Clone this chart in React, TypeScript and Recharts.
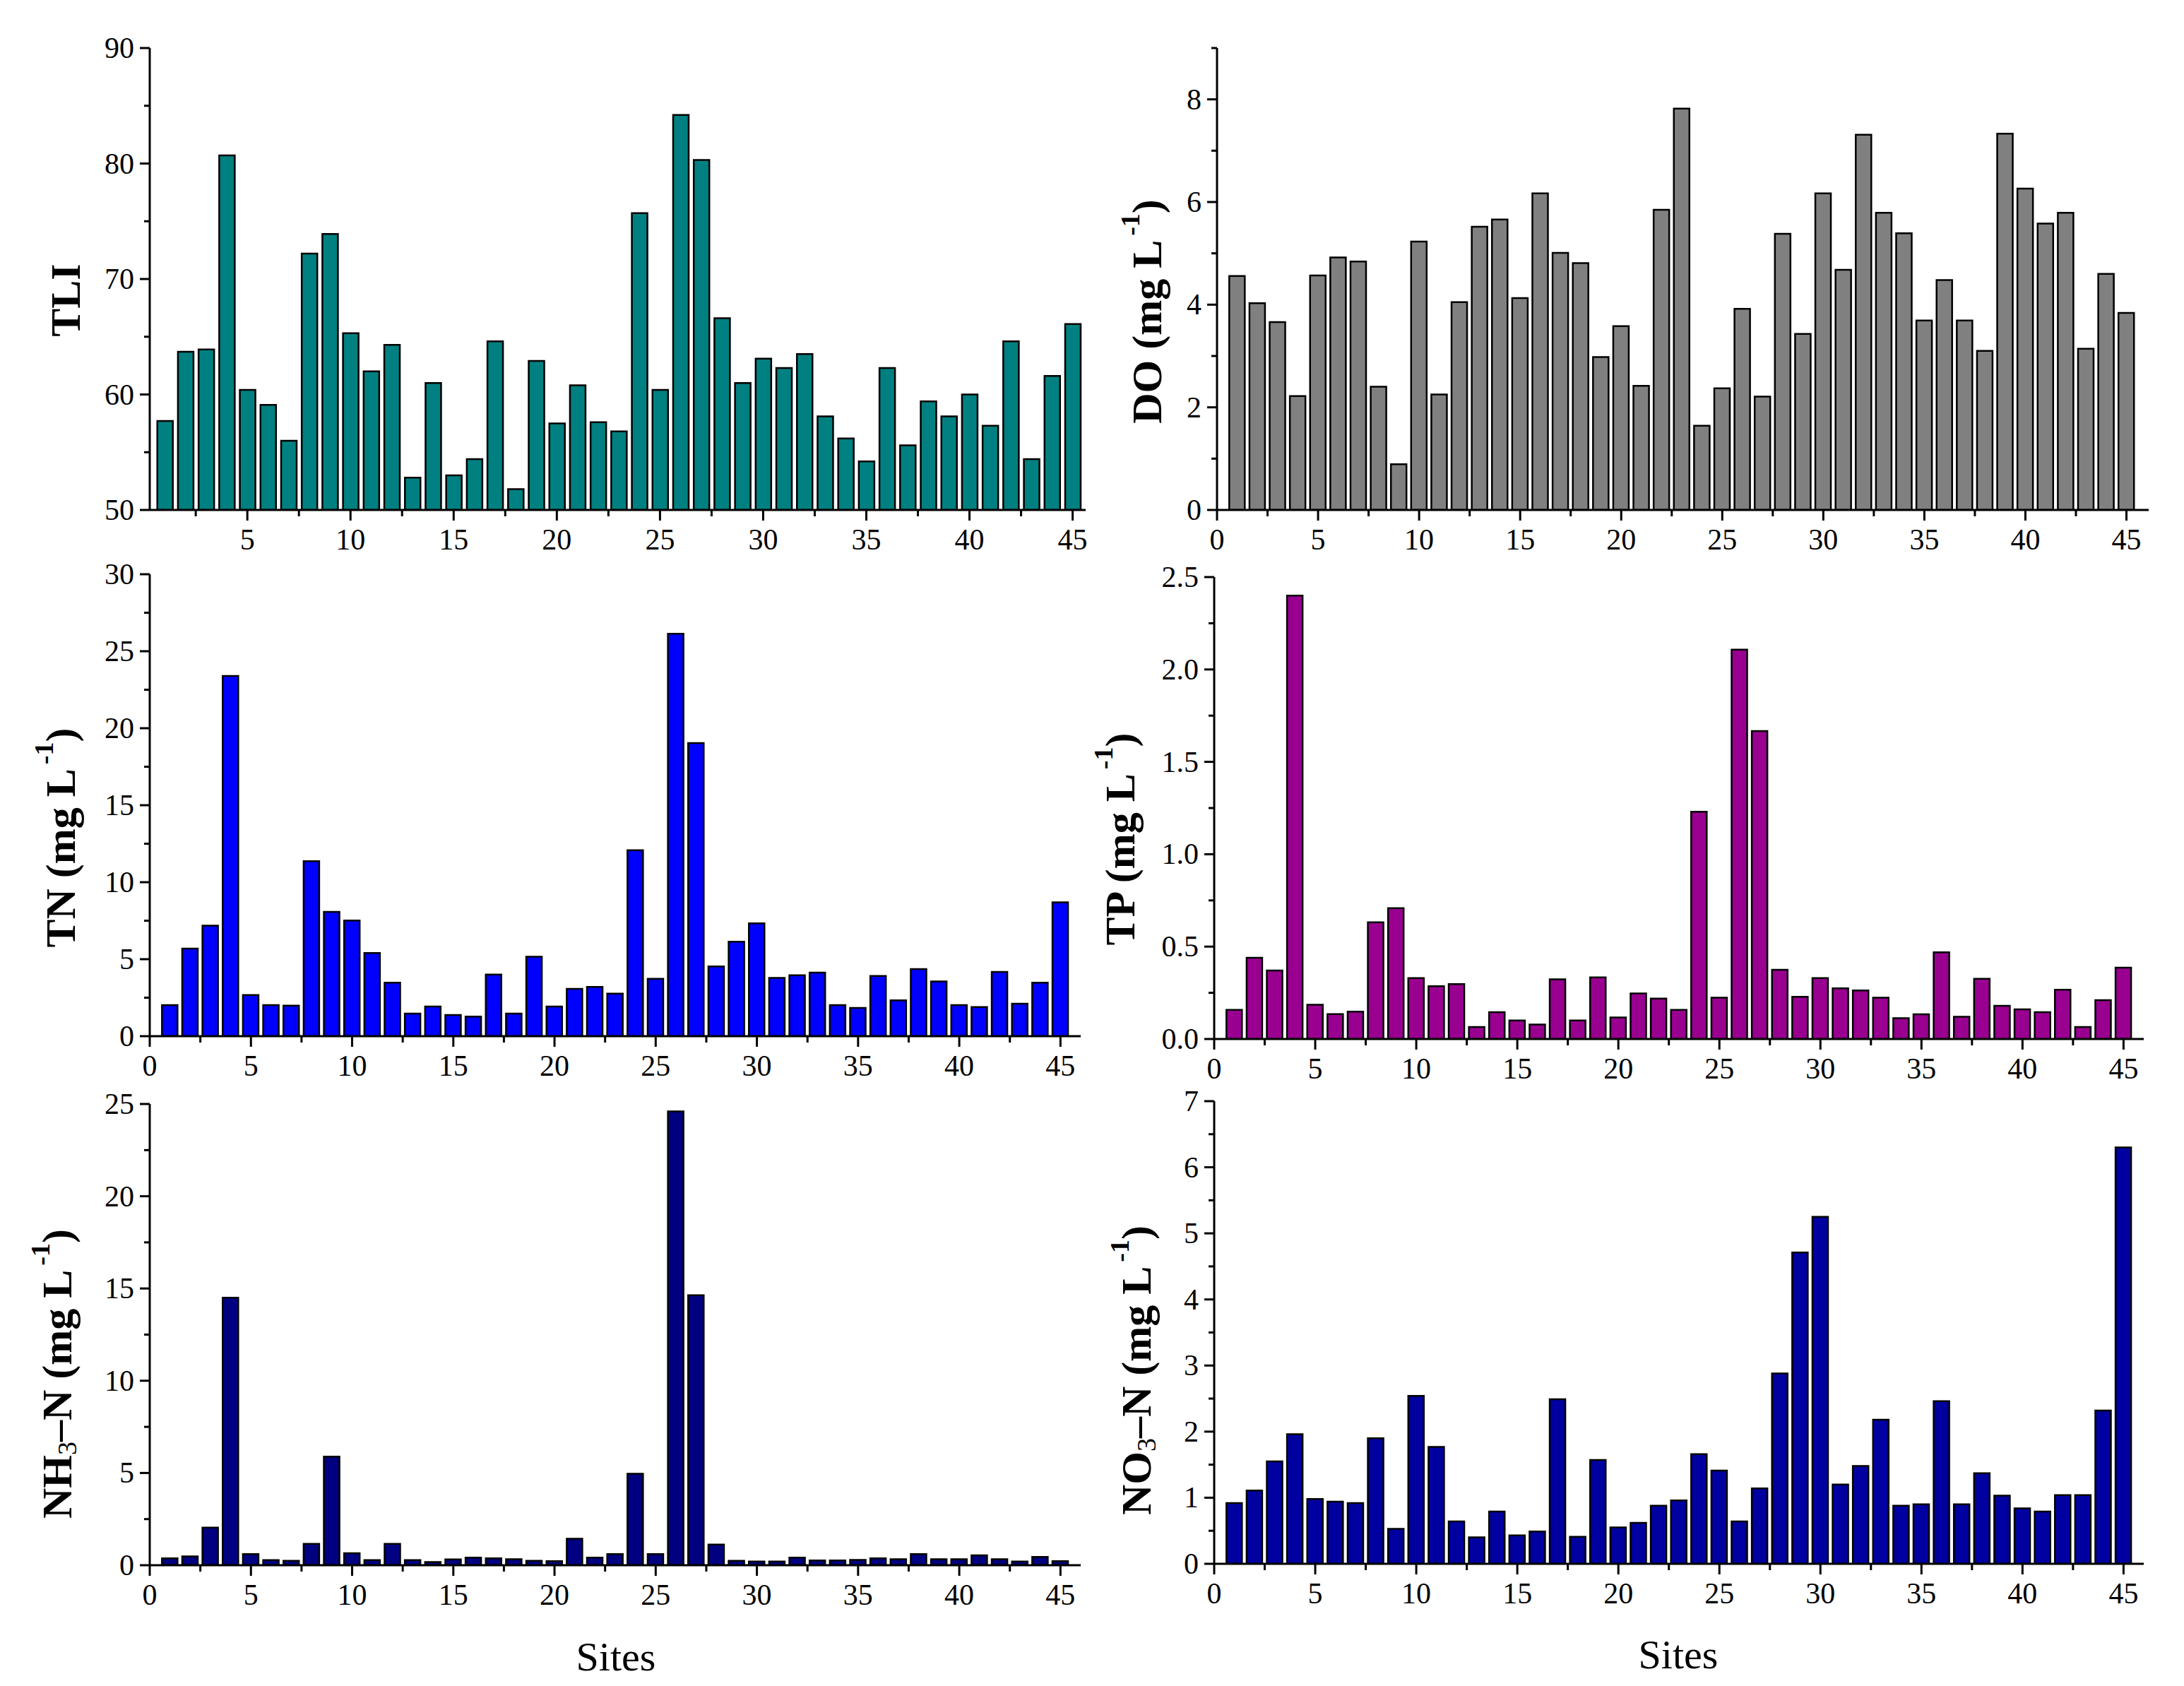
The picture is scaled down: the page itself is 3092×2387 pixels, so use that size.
import React from "react";
import { Bar, BarChart, Label, XAxis, YAxis } from "recharts";

const sites = [
  1, 2, 3, 4, 5, 6, 7, 8, 9, 10, 11, 12, 13, 14, 15, 16, 17, 18, 19, 20, 21, 22, 23,
  24, 25, 26, 27, 28, 29, 30, 31, 32, 33, 34, 35, 36, 37, 38, 39, 40, 41, 42, 43, 44, 45,
];

const tli = [
  57.7, 63.7, 63.9, 80.7, 60.4, 59.1, 56.0, 72.2, 73.9, 65.3,
  62.0, 64.3, 52.8, 61.0, 53.0, 54.4, 64.6, 51.8, 62.9, 57.5,
  60.8, 57.6, 56.8, 75.7, 60.4, 84.2, 80.3, 66.6, 61.0, 63.1,
  62.3, 63.5, 58.1, 56.2, 54.2, 62.3, 55.6, 59.4, 58.1, 60.0,
  57.3, 64.6, 54.4, 61.6, 66.1,
];
const dissolvedO = [
  4.56, 4.03, 3.66, 2.22, 4.57, 4.92, 4.84, 2.4, 0.89, 5.23,
  2.25, 4.05, 5.52, 5.66, 4.13, 6.17, 5.01, 4.81, 2.98, 3.58,
  2.42, 5.85, 7.82, 1.64, 2.37, 3.92, 2.21, 5.38, 3.43, 6.17,
  4.68, 7.31, 5.79, 5.39, 3.69, 4.48, 3.69, 3.1, 7.33, 6.26,
  5.58, 5.79, 3.14, 4.6, 3.84,
];
const tn = [
  2.02, 5.69, 7.18, 23.4, 2.67, 2.02, 1.98, 11.36, 8.07, 7.51,
  5.4, 3.47, 1.47, 1.93, 1.38, 1.27, 4.0, 1.47, 5.16, 1.93,
  3.07, 3.2, 2.76, 12.07, 3.73, 26.13, 19.04, 4.53, 6.13, 7.33,
  3.78, 3.96, 4.13, 2.02, 1.84, 3.91, 2.33, 4.36, 3.56, 2.02,
  1.89, 4.18, 2.11, 3.47, 8.69,
];
const tp = [
  0.158, 0.44, 0.371, 2.4, 0.185, 0.135, 0.148, 0.632, 0.708, 0.33,
  0.286, 0.297, 0.065, 0.145, 0.1, 0.078, 0.323, 0.1, 0.334, 0.117,
  0.247, 0.219, 0.158, 1.23, 0.224, 2.107, 1.667, 0.375, 0.228, 0.33,
  0.274, 0.263, 0.224, 0.113, 0.134, 0.469, 0.12, 0.326, 0.18, 0.161,
  0.145, 0.267, 0.065, 0.21, 0.386,
];
const nh3 = [
  0.37, 0.48, 2.04, 14.5, 0.6, 0.28, 0.24, 1.16, 5.89, 0.65,
  0.28, 1.16, 0.28, 0.17, 0.32, 0.41, 0.37, 0.33, 0.24, 0.22,
  1.44, 0.41, 0.6, 4.96, 0.6, 24.6, 14.63, 1.12, 0.24, 0.2,
  0.2, 0.41, 0.26, 0.26, 0.29, 0.37, 0.33, 0.6, 0.33, 0.33,
  0.54, 0.33, 0.2, 0.45, 0.22,
];
const no3 = [
  0.92, 1.11, 1.55, 1.96, 0.98, 0.94, 0.92, 1.9, 0.53, 2.54,
  1.77, 0.64, 0.4, 0.79, 0.43, 0.49, 2.49, 0.41, 1.57, 0.55,
  0.62, 0.88, 0.96, 1.66, 1.41, 0.64, 1.14, 2.88, 4.71, 5.25,
  1.2, 1.48, 2.18, 0.88, 0.9, 2.46, 0.9, 1.37, 1.03, 0.84,
  0.79, 1.04, 1.04, 2.32, 6.3,
];

const siteTicks = [
  0, 2.5, 5, 7.5, 10, 12.5, 15, 17.5, 20, 22.5, 25, 27.5, 30, 32.5, 35, 37.5, 40, 42.5, 45,
];
const tliTicks = [50, 55, 60, 65, 70, 75, 80, 85, 90];
const doTicks = [0, 1, 2, 3, 4, 5, 6, 7, 8, 9];
const tnTicks = [0, 2.5, 5, 7.5, 10, 12.5, 15, 17.5, 20, 22.5, 25, 27.5, 30];
const tpTicks = [0, 0.25, 0.5, 0.75, 1, 1.25, 1.5, 1.75, 2, 2.25, 2.5];
const nh3Ticks = [0, 2.5, 5, 7.5, 10, 12.5, 15, 17.5, 20, 22.5, 25];
const no3Ticks = [0, 0.5, 1, 1.5, 2, 2.5, 3, 3.5, 4, 4.5, 5, 5.5, 6, 6.5, 7];

const data = sites.map((site, i) => ({
  site,
  tli: tli[i],
  do: dissolvedO[i],
  tn: tn[i],
  tp: tp[i],
  nh3: nh3[i],
  no3: no3[i],
}));

const SERIF = "'Liberation Serif', 'Times New Roman', serif";
const Y_W = 205;
const M_TOP = 60;
const M_RIGHT = 30;

const isMajor = (v: number, step: number) => Math.abs(v / step - Math.round(v / step)) < 1e-6;

function makeXTick() {
  return function XTick(props: any) {
    const { x, y, payload } = props;
    const v = payload.value;
    const major = isMajor(v, 5);
    return (
      <g>
        <line x1={x} x2={x} y1={y} y2={y + (major ? 15 : 9)} stroke="#000" strokeWidth={3} />
        {major && (
          <text x={x} y={y + 56} textAnchor="middle" fontSize={42} fontFamily={SERIF} fill="#000">
            {v}
          </text>
        )}
      </g>
    );
  };
}

function makeYTick(step: number, fmt: (v: number) => string) {
  return function YTick(props: any) {
    const { x, y, payload } = props;
    const v = payload.value;
    const major = isMajor(v, step);
    return (
      <g>
        <line x1={x} x2={x - (major ? 14 : 8)} y1={y} y2={y} stroke="#000" strokeWidth={3} />
        {major && (
          <text x={x - 22} y={y + 14} textAnchor="end" fontSize={42} fontFamily={SERIF} fill="#000">
            {fmt(v)}
          </text>
        )}
      </g>
    );
  };
}

const sup = (t: string) => (
  <>
    <tspan fontSize={38} dx={6} dy={-24}>{t}</tspan>
    <tspan fontSize={60} dy={24}>)</tspan>
  </>
);

type Rect = { l: number; r: number; t: number; b: number };

type PanelProps = {
  dataKey: string;
  color: string;
  plot: Rect;
  xDomain: [number, number];
  xTicks: number[];
  yDomain: [number, number];
  yTicks: number[];
  yStep: number;
  yFmt: (v: number) => string;
  title: React.ReactNode;
  titlePos: [number, number];
  sitesPos?: [number, number];
};

function Panel(p: PanelProps) {
  const xH = p.sitesPos ? 200 : 100;
  const left = p.plot.l - Y_W;
  const top = p.plot.t - M_TOP;
  const width = p.plot.r - p.plot.l + Y_W + M_RIGHT;
  const height = p.plot.b - p.plot.t + M_TOP + xH;
  const [tx, ty] = p.titlePos;
  const XTick = makeXTick();
  const YTick = makeYTick(p.yStep, p.yFmt);

  return (
    <div style={{ position: "absolute", left, top, width, height }}>
      <BarChart
        width={width}
        height={height}
        data={data}
        margin={{ top: M_TOP, right: M_RIGHT, left: 0, bottom: 0 }}
      >
        <XAxis
          type="number"
          dataKey="site"
          domain={p.xDomain}
          ticks={p.xTicks}
          interval={0}
          allowDataOverflow
          height={xH}
          tickSize={0}
          tickMargin={0}
          tickLine={false}
          axisLine={{ stroke: "#000", strokeWidth: 3 }}
          tick={<XTick />}
        >
          {p.sitesPos && (
            <Label
              content={() => (
                <text
                  x={p.sitesPos![0] - left}
                  y={p.sitesPos![1] - top}
                  textAnchor="middle"
                  dominantBaseline="central"
                  fontSize={58}
                  fontFamily={SERIF}
                  fill="#000"
                >
                  Sites
                </text>
              )}
            />
          )}
        </XAxis>
        <YAxis
          type="number"
          domain={p.yDomain}
          ticks={p.yTicks}
          interval={0}
          allowDataOverflow
          width={Y_W}
          tickSize={0}
          tickMargin={0}
          tickLine={false}
          axisLine={{ stroke: "#000", strokeWidth: 3 }}
          tick={<YTick />}
        >
          <Label
            content={() => (
              <text
                x={tx - left}
                y={ty - top}
                transform={`rotate(-90 ${tx - left} ${ty - top})`}
                textAnchor="middle"
                dominantBaseline="central"
                fontSize={60}
                fontWeight="bold"
                fontFamily={SERIF}
                fill="#000"
              >
                {p.title}
              </text>
            )}
          />
        </YAxis>
        <Bar
          dataKey={p.dataKey}
          fill={p.color}
          stroke="#000"
          strokeWidth={2.5}
          barSize={22}
          isAnimationActive={false}
        />
      </BarChart>
    </div>
  );
}

const intFmt = (v: number) => String(v);
const oneDp = (v: number) => v.toFixed(1);

export default function App() {
  return (
    <div
      style={{
        position: "absolute",
        left: 0,
        top: 0,
        width: 3092,
        height: 2387,
        background: "#fff",
        overflow: "hidden",
      }}
    >
      <Panel
        dataKey="tli"
        color="#008080"
        plot={{ l: 212, r: 1537, t: 68, b: 722 }}
        xDomain={[0.27, 45.63]}
        xTicks={siteTicks.slice(1)}
        yDomain={[50, 90]}
        yTicks={tliTicks}
        yStep={10}
        yFmt={intFmt}
        title="TLI"
        titlePos={[93, 425]}
      />
      <Panel
        dataKey="do"
        color="#808080"
        plot={{ l: 1723, r: 3042, t: 68, b: 722 }}
        xDomain={[0, 46.1]}
        xTicks={siteTicks}
        yDomain={[0, 9]}
        yTicks={doTicks}
        yStep={2}
        yFmt={intFmt}
        title={<>DO (mg L{sup("-1")}</>}
        titlePos={[1624, 441]}
      />
      <Panel
        dataKey="tn"
        color="#0000FF"
        plot={{ l: 212, r: 1530, t: 813, b: 1467 }}
        xDomain={[0, 46]}
        xTicks={siteTicks}
        yDomain={[0, 30]}
        yTicks={tnTicks}
        yStep={5}
        yFmt={intFmt}
        title={<>TN (mg L{sup("-1")}</>}
        titlePos={[86, 1186]}
      />
      <Panel
        dataKey="tp"
        color="#990090"
        plot={{ l: 1719, r: 3035, t: 817, b: 1471 }}
        xDomain={[0, 46]}
        xTicks={siteTicks}
        yDomain={[0, 2.5]}
        yTicks={tpTicks}
        yStep={0.5}
        yFmt={oneDp}
        title={<>TP (mg L{sup("-1")}</>}
        titlePos={[1586, 1188]}
      />
      <Panel
        dataKey="nh3"
        color="#000080"
        plot={{ l: 212, r: 1530, t: 1563, b: 2216 }}
        xDomain={[0, 46]}
        xTicks={siteTicks}
        yDomain={[0, 25]}
        yTicks={nh3Ticks}
        yStep={5}
        yFmt={intFmt}
        title={
          <>
            NH
            <tspan fontSize={38} fontWeight="normal" dy={14}>3</tspan>
            <tspan dy={-14}>–N (mg L</tspan>
            {sup("-1")}
          </>
        }
        titlePos={[81, 1945]}
        sitesPos={[872, 2345]}
      />
      <Panel
        dataKey="no3"
        color="#0000A0"
        plot={{ l: 1719, r: 3035, t: 1559, b: 2214 }}
        xDomain={[0, 46]}
        xTicks={siteTicks}
        yDomain={[0, 7]}
        yTicks={no3Ticks}
        yStep={1}
        yFmt={intFmt}
        title={
          <>
            NO
            <tspan fontSize={38} fontWeight="normal" dy={14}>3</tspan>
            <tspan dy={-14}>–N (mg L</tspan>
            {sup("-1")}
          </>
        }
        titlePos={[1609, 1940]}
        sitesPos={[2376, 2342]}
      />
    </div>
  );
}
